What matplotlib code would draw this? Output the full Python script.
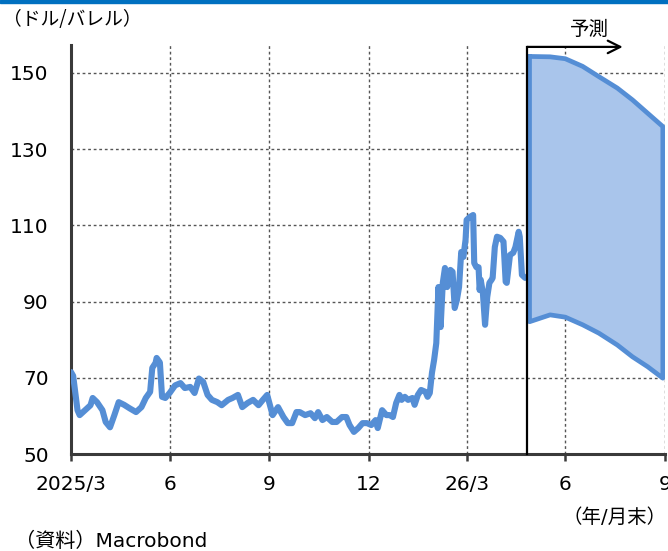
import matplotlib
matplotlib.use("Agg")
import matplotlib.pyplot as plt
import pandas as pd
from matplotlib.patches import Rectangle

plt.rcParams['font.family'] = ['DejaVu Sans', 'Noto Sans CJK JP']

# ---- data ----
price_dates = [
    "2025-03-31", "2025-04-02", "2025-04-06", "2025-04-08", "2025-04-13", "2025-04-18", "2025-04-20",
    "2025-04-24", "2025-04-29", "2025-05-02", "2025-05-06", "2025-05-10", "2025-05-14", "2025-05-19",
    "2025-05-24", "2025-05-30", "2025-06-04", "2025-06-08", "2025-06-12", "2025-06-14", "2025-06-17",
    "2025-06-18", "2025-06-21", "2025-06-23", "2025-06-26", "2025-06-30", "2025-07-05", "2025-07-10",
    "2025-07-14", "2025-07-19", "2025-07-23", "2025-07-27", "2025-07-31", "2025-08-04", "2025-08-08",
    "2025-08-13", "2025-08-17", "2025-08-23", "2025-08-27", "2025-09-01", "2025-09-05", "2025-09-10",
    "2025-09-15", "2025-09-20", "2025-09-24", "2025-09-28", "2025-10-01", "2025-10-03", "2025-10-08",
    "2025-10-13", "2025-10-17", "2025-10-21", "2025-10-25", "2025-10-28", "2025-11-02", "2025-11-07",
    "2025-11-11", "2025-11-14", "2025-11-18", "2025-11-22", "2025-11-27", "2025-12-01", "2025-12-06",
    "2025-12-10", "2025-12-13", "2025-12-17", "2025-12-21", "2025-12-25", "2025-12-29", "2026-01-02",
    "2026-01-06", "2026-01-08", "2026-01-12", "2026-01-16", "2026-01-19", "2026-01-22", "2026-01-25",
    "2026-01-28", "2026-01-30", "2026-02-02", "2026-02-05", "2026-02-09", "2026-02-11", "2026-02-14",
    "2026-02-17", "2026-02-21", "2026-02-23", "2026-02-25", "2026-02-27", "2026-03-01", "2026-03-03",
    "2026-03-05", "2026-03-07", "2026-03-09", "2026-03-11", "2026-03-13", "2026-03-16", "2026-03-18",
    "2026-03-20", "2026-03-22", "2026-03-24", "2026-03-26", "2026-03-28", "2026-03-30", "2026-03-31",
    "2026-04-03", "2026-04-06", "2026-04-07", "2026-04-09", "2026-04-11", "2026-04-12", "2026-04-13",
    "2026-04-15", "2026-04-17", "2026-04-19", "2026-04-21", "2026-04-23", "2026-04-24", "2026-04-26",
    "2026-04-28", "2026-05-01", "2026-05-04", "2026-05-06", "2026-05-07", "2026-05-10", "2026-05-13",
    "2026-05-15", "2026-05-18", "2026-05-19", "2026-05-21", "2026-05-24",
]
price_values = [
    71.5, 70.5, 61.5, 60.2, 61.5, 62.8, 64.7,
    63.6, 61.5, 58.4, 57.0, 60.2, 63.6, 62.9,
    62.0, 61.0, 62.3, 64.7, 66.3, 72.6, 73.9,
    75.2, 74.0, 65.0, 64.7, 66.0, 68.0, 68.6,
    67.3, 67.6, 66.0, 69.8, 68.9, 65.5, 64.2,
    63.6, 62.8, 64.2, 64.7, 65.5, 62.3, 63.4,
    64.2, 62.8, 64.2, 65.5, 62.3, 60.2, 62.3,
    59.7, 58.1, 58.1, 61.0, 61.0, 60.2, 60.7,
    59.4, 61.0, 58.9, 59.7, 58.4, 58.4, 59.7,
    59.7, 57.6, 55.8, 56.8, 58.1, 58.1, 57.6,
    58.9, 56.8, 61.5, 60.2, 60.2, 59.7, 63.4,
    65.5, 64.2, 65.0, 64.2, 64.7, 62.9, 65.5,
    66.8, 66.3, 65.0, 66.0, 71.3, 74.7, 79.1,
    93.8, 83.3, 94.9, 98.8, 93.8, 98.3, 97.8,
    88.3, 90.4, 93.8, 103.0, 101.7, 106.2, 111.4,
    112.2, 112.7, 100.1, 99.0, 99.0, 93.0, 95.7,
    92.2, 83.9, 91.2, 94.9, 95.7, 96.2, 104.3,
    107.0, 106.7, 105.7, 95.2, 94.9, 102.2, 102.8,
    104.3, 108.3, 107.0, 97.0, 96.2,
]

forecast_start = "2026-05-26"
band_dates = ["2026-05-28", "2026-06-16", "2026-06-30", "2026-07-16", "2026-07-31",
              "2026-08-17", "2026-08-31", "2026-09-14", "2026-09-28"]
band_upper = [154.3, 154.2, 153.7, 151.7, 149.0, 146.0, 142.9, 139.4, 135.9]
band_lower = [84.7, 86.5, 85.9, 83.9, 81.7, 78.6, 75.5, 72.9, 69.9]

tick_dates = ["2025-03-31", "2025-06-30", "2025-09-30", "2025-12-31",
              "2026-03-31", "2026-06-30", "2026-09-30"]
tick_labels = ["2025/3", "6", "9", "12", "26/3", "6", "9"]
y_ticks = [50, 70, 90, 110, 130, 150]

# ---- plot ----
fig = plt.figure(figsize=(6.68, 5.51), dpi=100)
ax = fig.add_axes([71/668, 1 - 454/551, (665 - 71)/668, (454 - 45)/551])

line_color = "#558ed5"
fill_color = "#a9c5eb"

pdates = pd.to_datetime(price_dates)
ax.plot(pdates, price_values, color=line_color, lw=4.4, solid_joinstyle="round",
        solid_capstyle="round", zorder=3)

bdates = pd.to_datetime(band_dates)
ax.fill_between(bdates, band_lower, band_upper, color=fill_color, zorder=2, lw=0)
ax.plot(list(bdates) + list(bdates[::-1]) + [bdates[0]],
        band_upper + band_lower[::-1] + [band_upper[0]],
        color=line_color, lw=3.4, solid_joinstyle="round", zorder=3)

x0 = pd.Timestamp("2025-03-31")
x1 = pd.Timestamp("2026-09-30")
ax.set_xlim(x0, x1)
ax.set_ylim(50, 157.3)

ax.set_xticks(pd.to_datetime(tick_dates))
ax.set_xticklabels(tick_labels)
ax.set_yticks(y_ticks)
ax.tick_params(axis="x", labelsize=14.5, colors="#3a3a3a", labelcolor="black",
               length=5, width=1.8, pad=10)
ax.tick_params(axis="y", labelsize=14.5, labelcolor="black", length=0, pad=16)
for lab in ax.get_xticklabels():
    lab.set_clip_on(False)

ax.grid(True, color="#555555", linestyle=(0, (2, 2)), lw=1.0, zorder=1)
ax.set_axisbelow(True)

for s in ["top", "right"]:
    ax.spines[s].set_visible(False)
for s in ["left", "bottom"]:
    ax.spines[s].set_color("#3a3a3a")
    ax.spines[s].set_linewidth(2.2)

# forecast divider and arrow
fs = pd.Timestamp(forecast_start)
ax.plot([fs, fs], [50, 156.8], color="black", lw=1.6, zorder=4, clip_on=False)
ax.annotate("", xy=(pd.Timestamp("2026-08-22"), 156.8), xytext=(fs, 156.8),
            xycoords="data", textcoords="data", annotation_clip=False,
            arrowprops=dict(arrowstyle="->,head_length=0.9,head_width=0.45", color="black", lw=1.6,
                            shrinkA=0, shrinkB=0))
fig.text(589/668, 1 - 29/551, "予測", fontsize=14, ha="center", va="center")

fig.text(3/668, 1 - 19/551, "（ドル/バレル）", fontsize=13.5, ha="left", va="center",
         family=['Noto Sans CJK JP', 'DejaVu Sans'])
fig.text(667/668, 1 - 517/551, "（年/月末）", fontsize=14, ha="right", va="center")
fig.text(15/668, 1 - 541/551, "（資料）Macrobond", fontsize=14.5, ha="left", va="center")

# top blue bar
fig.patches.append(Rectangle((0, 1 - 3/551), 1, 3/551, transform=fig.transFigure,
                             color="#0070c0", zorder=0))

fig.savefig("out.png", dpi=100)
